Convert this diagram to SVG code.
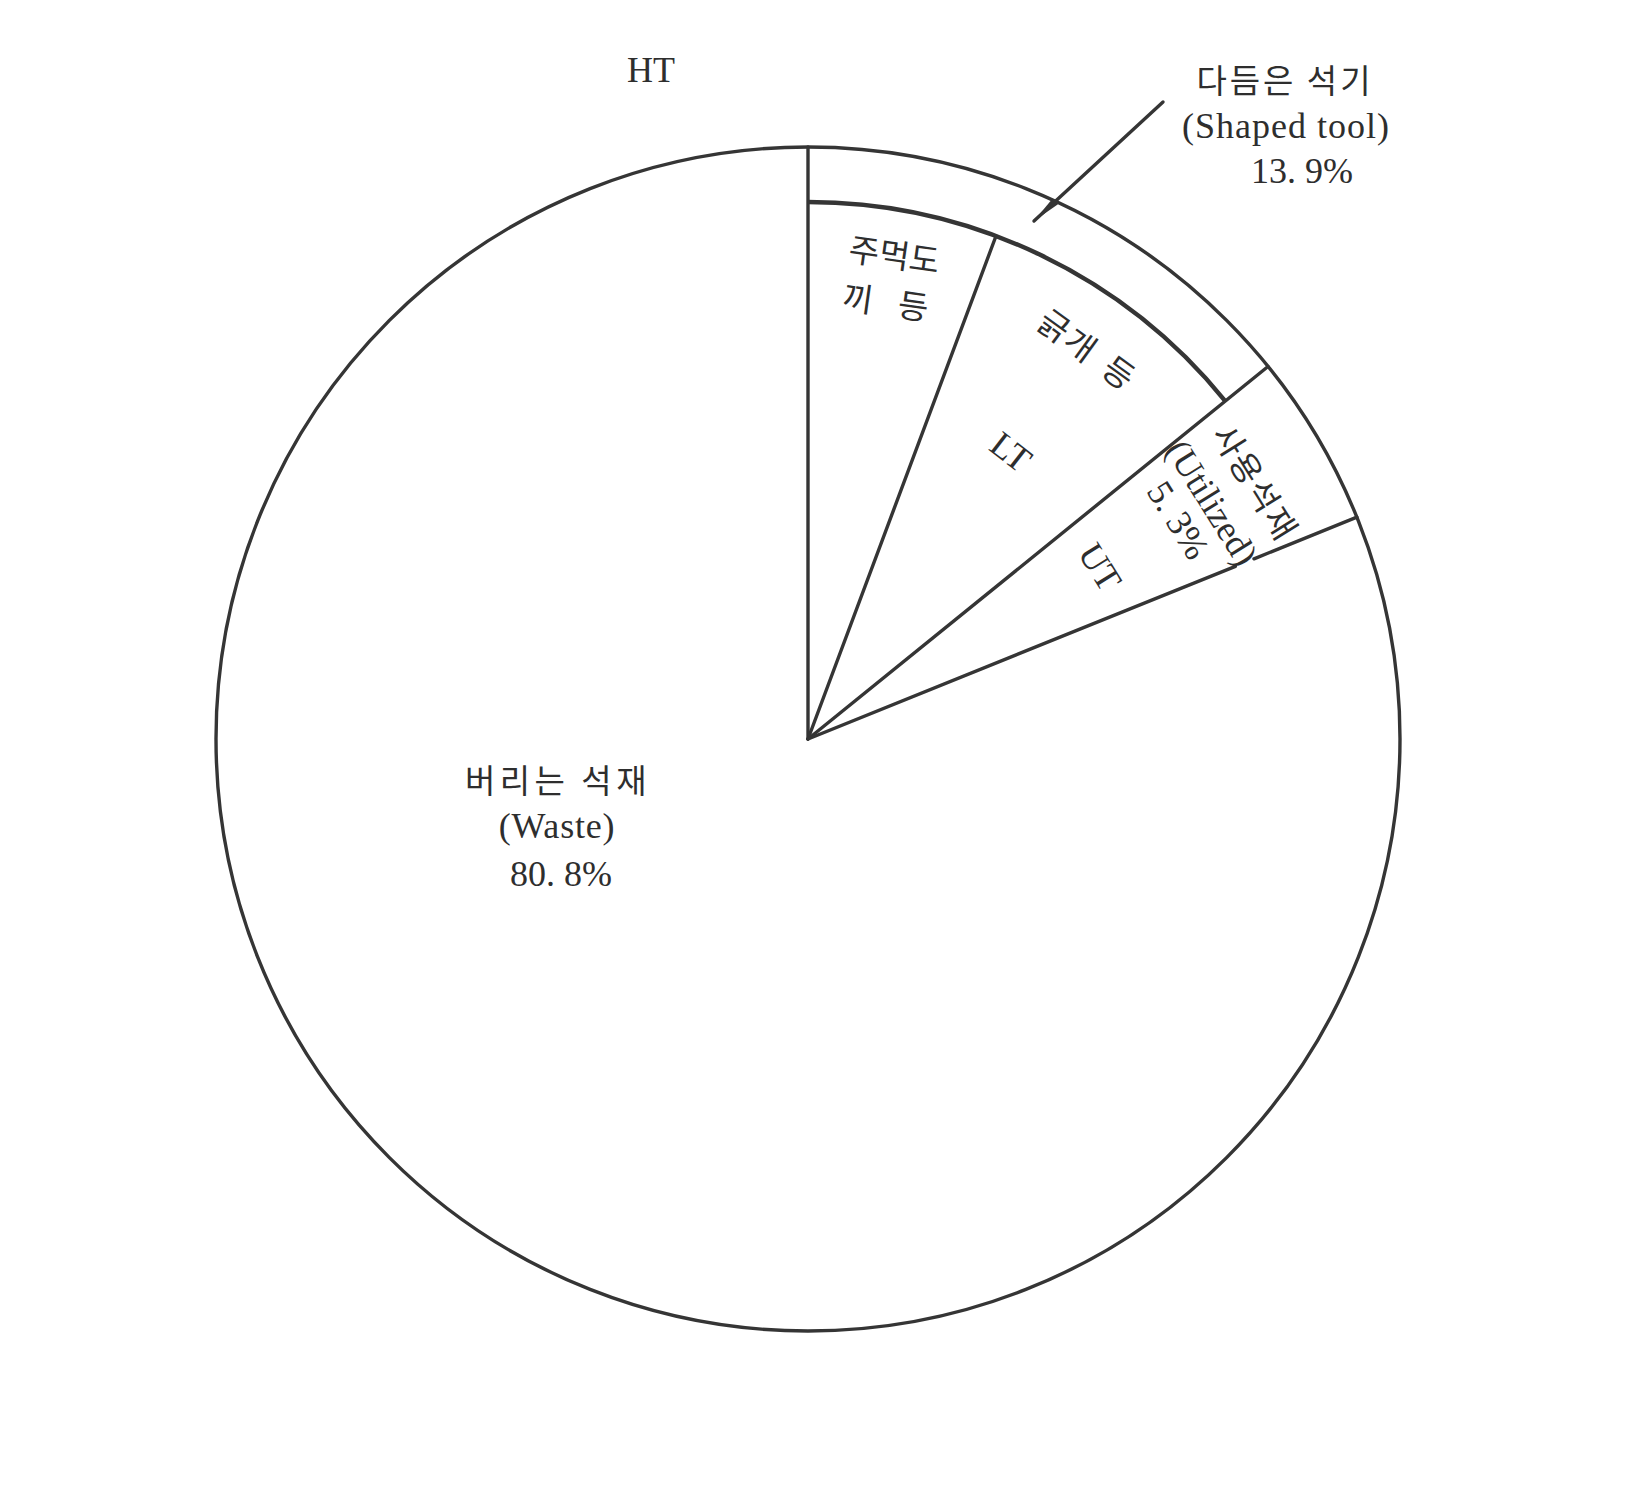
<svg xmlns="http://www.w3.org/2000/svg" width="1644" height="1493" viewBox="0 0 1644 1493">
  <style>
    .ln { fill: none; stroke: #353535; stroke-width: 3.4; stroke-linecap: round; }
    .in { fill: none; stroke: #353535; stroke-width: 4.4; }
    .en { font-family: "Liberation Serif", "DejaVu Serif", serif; font-size: 36px; fill: #2e2e2e; }
    .ko { font-family: "Noto Sans CJK KR", "Noto Sans", sans-serif; font-size: 33px; fill: #2e2e2e; }
  </style>
  <defs>
    <marker id="spike" markerUnits="userSpaceOnUse" markerWidth="30" markerHeight="10" refX="29" refY="5" orient="auto">
      <path d="M0,1 L29,5 L0,9 Z" fill="#353535"/>
    </marker>
  </defs>
  <rect width="1644" height="1493" fill="#ffffff"/>

  <g id="pie">
    <circle cx="808" cy="739" r="592" class="ln"/>
    <path d="M808,202 A537,537 0 0 1 1225.3,401.1" class="in"/>
  </g>

  <g id="connectors">
    <line x1="808" y1="739" x2="808" y2="147" class="ln"/>
    <line x1="808" y1="739" x2="996" y2="236" class="ln"/>
    <line x1="808" y1="739" x2="1268" y2="366.5" class="ln"/>
    <line x1="808" y1="739" x2="1235.4" y2="566.3" class="ln"/>
    <line x1="1254" y1="558.8" x2="1356.9" y2="517.2" class="ln"/>
    <line x1="1163" y1="102" x2="1034" y2="221" class="ln" stroke-width="2.6" marker-end="url(#spike)"/>
  </g>

  <g id="label-HT">
    <text x="651" y="82" class="en" text-anchor="middle">HT</text>
  </g>

  <g id="label-shaped">
    <text x="1285" y="93" class="ko" text-anchor="middle" letter-spacing="3">다듬은 석기</text>
    <text x="1286" y="138" class="en" text-anchor="middle" letter-spacing="1">(Shaped tool)</text>
    <text x="1302" y="183" class="en" text-anchor="middle">13. 9%</text>
  </g>

  <g id="label-handaxe" transform="translate(891,279) rotate(8)">
    <text x="0" y="-12" class="ko" text-anchor="middle" font-size="35">주먹도</text>
    <text x="-2" y="36" class="ko" text-anchor="middle" font-size="35" word-spacing="18">끼 등</text>
  </g>

  <g id="label-scraper" transform="translate(1087,350) rotate(36)">
    <text x="0" y="12" class="ko" text-anchor="middle" letter-spacing="2" word-spacing="6">긁개 등</text>
  </g>

  <g id="label-LT" transform="translate(1011,452) rotate(38)">
    <text x="0" y="12" class="en" text-anchor="middle">LT</text>
  </g>

  <g id="label-utilized" transform="translate(1215,502) rotate(58)">
    <text x="5" y="-32" class="ko" text-anchor="middle" letter-spacing="2">사용석재</text>
    <text x="-1" y="15" class="en" text-anchor="middle" font-size="34">(Utilized)</text>
    <text x="-4" y="53" class="en" text-anchor="middle">5. 3%</text>
  </g>

  <g id="label-UT" transform="translate(1100,567) rotate(58)">
    <text x="0" y="12" class="en" text-anchor="middle">UT</text>
  </g>

  <g id="label-waste">
    <text x="558" y="793" class="ko" text-anchor="middle" letter-spacing="4.5">버리는 석재</text>
    <text x="557" y="838" class="en" text-anchor="middle" letter-spacing="0.8">(Waste)</text>
    <text x="561" y="886" class="en" text-anchor="middle">80. 8%</text>
  </g>
</svg>
